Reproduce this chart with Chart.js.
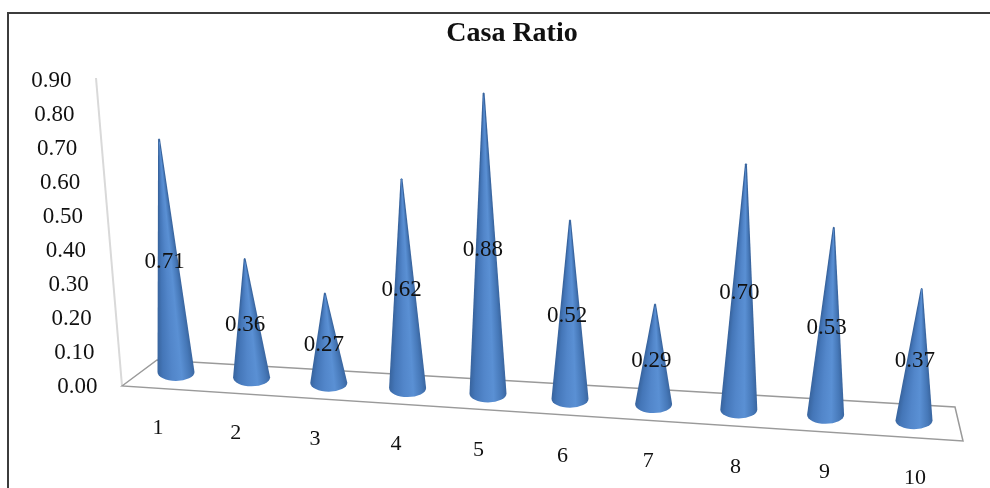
<!DOCTYPE html>
<html>
<head>
<meta charset="utf-8">
<title>Casa Ratio</title>
<script src="https://cdn.jsdelivr.net/npm/chart.js@4"></script>
<style>
  html, body { margin: 0; padding: 0; background: #fff; }
  #wrap { width: 990px; height: 488px; overflow: hidden; }
  #casaChart { display: block; filter: blur(0.6px); }
</style>
</head>
<body>
<div id="wrap"><canvas id="casaChart" width="990" height="488"></canvas></div>
<script>
const categories = ['1', '2', '3', '4', '5', '6', '7', '8', '9', '10'];
const casaRatio = [0.71, 0.36, 0.27, 0.62, 0.88, 0.52, 0.29, 0.70, 0.53, 0.37];
const yTicks = [0, 0.1, 0.2, 0.3, 0.4, 0.5, 0.6, 0.7, 0.8, 0.9];

const serif = '"Liberation Serif", "Times New Roman", serif';

// fake 3D view: how far each category slides from the plain 2D position
const FLOOR_DROP = 5.35;   // px the floor falls per category
const BASE_LIFT = -14;     // cone 1 stands behind the front edge
const RX = 18.5, RY = 9;   // base ellipse

const baseShift = (i) => BASE_LIFT + FLOOR_DROP * i;
const sideShift = (i) => -0.8 * i * (9 - i);   // perspective squeezes the left side
const heightScale = (i) => 0.955 + 0.0094 * i;
const leanFactor = (i) => (i - 5) * 0.0145;
const coneHeight = (bar, i) => (bar.base - bar.y) * heightScale(i) * 1.015 - 0.5;

// axis labels follow the tilted wall and floor instead of a straight line
class WallScale extends Chart.LinearScale {
  static id = 'wallLinear';
  static defaults = {};
  _computeLabelArea() { return undefined; }
  _computeLabelItems(chartArea) {
    const items = super._computeLabelItems(chartArea);
    const zero = this.getPixelForValue(0);
    items.forEach(item => {
      const y = item.options.translation[1];
      item.options.translation[0] = 97.5 - (zero - y) * 0.085;
      item.options.translation[1] = y + 1;
    });
    return items;
  }
}

class FloorScale extends Chart.CategoryScale {
  static id = 'floorCategory';
  static defaults = {};
  _computeLabelArea() { return undefined; }
  _computeLabelItems(chartArea) {
    const items = super._computeLabelItems(chartArea);
    items.forEach((item, i) => {
      item.options.translation[0] += -18 + 2.1 * i + sideShift(i);
      item.options.translation[1] = 428 + 5.55 * i;
      item.options.textBaseline = 'middle';
      item.textOffset = 0;
    });
    return items;
  }
}

// position 0 is the right edge of the cone, 1 the left edge
const coneStops = [
  [0, 'rgb(58,102,160)'],
  [0.12, 'rgb(70,120,184)'],
  [0.35, 'rgb(90,144,212)'],
  [0.6, 'rgb(82,134,202)'],
  [0.85, 'rgb(68,118,184)'],
  [1, 'rgb(56,100,158)']
];

class ConeController extends Chart.BarController {
  static id = 'cone';
  static defaults = {};
  draw() {
    const ctx = this.chart.ctx;
    const bars = this.getMeta().data;
    const values = this.getDataset().data;

    ctx.save();
    bars.forEach((bar, i) => {
      const cx = bar.x + sideShift(i);
      const cy = bar.base + baseShift(i);
      const h = coneHeight(bar, i);
      const tipX = cx + h * leanFactor(i);
      const tipY = cy - h;

      // conic fill centred on the tip, so the shading narrows with the cone
      const a0 = Math.atan2(cy - tipY, cx + RX - tipX);
      const a1 = Math.atan2(cy - tipY, cx - RX - tipX);
      const grad = ctx.createConicGradient(a0, tipX, tipY);
      coneStops.forEach(([t, col]) => grad.addColorStop(t * (a1 - a0) / (2 * Math.PI), col));
      grad.addColorStop(1, coneStops[0][1]);

      ctx.fillStyle = grad;
      ctx.beginPath();
      ctx.moveTo(tipX - 1, tipY + 1);
      ctx.quadraticCurveTo(tipX, tipY - 1, tipX + 1, tipY + 1);
      ctx.lineTo(cx + RX, cy);
      ctx.ellipse(cx, cy, RX, RY, 0, 0, Math.PI);
      ctx.closePath();
      ctx.fill();
    });

    ctx.fillStyle = '#111';
    ctx.font = '23px ' + serif;
    ctx.textAlign = 'center';
    ctx.textBaseline = 'middle';
    bars.forEach((bar, i) => {
      const cy = bar.base + baseShift(i);
      const h = coneHeight(bar, i);
      const lx = bar.x + sideShift(i) + h * leanFactor(i) / 2 - 3;
      ctx.fillText(values[i].toFixed(2), lx, cy - h / 2 + 7);
    });
    ctx.restore();
  }
}

const framePlugin = {
  id: 'frame3d',
  beforeDatasetsDraw(chart) {
    const { ctx, chartArea: area, scales } = chart;
    const zero = scales.y.getPixelForValue(0);
    const top = scales.y.getPixelForValue(0.9);

    ctx.save();
    // chart border, only top and left are inside the crop
    ctx.strokeStyle = '#3c3c3c';
    ctx.lineWidth = 2;
    ctx.beginPath();
    ctx.moveTo(8, 488);
    ctx.lineTo(8, 13);
    ctx.lineTo(990, 13);
    ctx.stroke();

    // left wall edge
    ctx.strokeStyle = '#d9d9d9';
    ctx.lineWidth = 2;
    ctx.beginPath();
    ctx.moveTo(96, top - 2);
    ctx.lineTo(area.left - 13, zero);
    ctx.stroke();

    // floor
    ctx.strokeStyle = '#9a9a9a';
    ctx.lineWidth = 1.5;
    ctx.beginPath();
    ctx.moveTo(area.left - 13, zero);
    ctx.lineTo(area.left + 22, zero - 26);
    ctx.lineTo(area.right, zero + 21);
    ctx.lineTo(area.right + 8, zero + 55);
    ctx.closePath();
    ctx.stroke();
    ctx.restore();
  }
};

Chart.register(WallScale, FloorScale, ConeController);

new Chart(document.getElementById('casaChart'), {
  type: 'cone',
  data: {
    labels: categories,
    datasets: [{ label: 'Casa Ratio', data: casaRatio, clip: false }]
  },
  options: {
    responsive: false,
    animation: false,
    layout: { padding: { left: 69, right: 35, top: 0, bottom: 0 } },
    plugins: {
      legend: { display: false },
      tooltip: { enabled: false },
      title: {
        display: true,
        text: 'Casa Ratio',
        color: '#111',
        font: { family: serif, size: 28, weight: 'bold' },
        padding: { top: 17, bottom: 29.4 }
      }
    },
    scales: {
      x: {
        type: 'floorCategory',
        axis: 'x',
        offset: true,
        border: { display: false },
        grid: { display: false },
        afterFit: (scale) => { scale.height = 102; },
        ticks: {
          autoSkip: false,
          maxRotation: 0,
          color: '#111',
          font: { family: serif, size: 22 }
        }
      },
      y: {
        type: 'wallLinear',
        axis: 'y',
        min: 0,
        max: 0.9,
        border: { display: false },
        grid: { display: false },
        afterFit: (scale) => { scale.width = 66; },
        afterBuildTicks: (scale) => { scale.ticks = yTicks.map(value => ({ value })); },
        ticks: {
          color: '#111',
          font: { family: serif, size: 23 },
          callback: (v) => Number(v).toFixed(2)
        }
      }
    }
  },
  plugins: [framePlugin]
});
</script>
</body>
</html>
